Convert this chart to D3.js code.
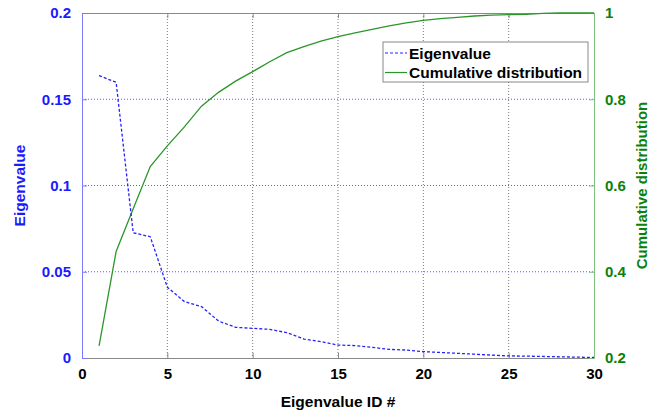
<!DOCTYPE html>
<html>
<head>
<meta charset="utf-8">
<script src="https://cdn.jsdelivr.net/npm/d3@7"></script>
<style>
  html, body { margin: 0; padding: 0; background: #fff; }
  svg { display: block; font-family: "Liberation Sans", Arial, sans-serif; font-weight: bold; }
</style>
</head>
<body>
<svg id="chart" width="651" height="413"></svg>
<script>
// ---- data ----
const ids = d3.range(1, 31);
const eigenvalues = [0.1637, 0.1598, 0.0726, 0.0703, 0.0410, 0.0327, 0.0298, 0.0214, 0.0178, 0.0172,
                     0.0166, 0.0147, 0.0110, 0.0095, 0.0075, 0.0072, 0.0062, 0.0050, 0.0046, 0.0037,
                     0.0032, 0.0027, 0.0022, 0.0017, 0.0012, 0.0011, 0.0009, 0.0007, 0.0005, 0.0003];
const cumulative = [0.228, 0.447, 0.546, 0.644, 0.692, 0.736, 0.784, 0.816, 0.842, 0.864,
                    0.887, 0.908, 0.922, 0.935, 0.945, 0.954, 0.962, 0.970, 0.977, 0.983,
                    0.987, 0.990, 0.993, 0.995, 0.996, 0.997, 0.999, 1.000, 1.000, 1.000];
const xTicks = [0, 5, 10, 15, 20, 25, 30];
const yLeftTicks = [0, 0.05, 0.1, 0.15, 0.2];
const yRightTicks = [0.2, 0.4, 0.6, 0.8, 1];
const seriesNames = ["Eigenvalue", "Cumulative distribution"];

// ---- layout ----
const L = 82, R = 594, T = 13, B = 358;
const BLUE = "#1a1aff", GREEN = "#0a820a", GRAY = "#888888";

const svg = d3.select("#chart");
const x = d3.scaleLinear().domain([0, 30]).range([L, R]);
const yL = d3.scaleLinear().domain([0, 0.2]).range([B, T]);
const yR = d3.scaleLinear().domain([0.2, 1]).range([B, T]);

// grid
svg.append("g").selectAll("line").data(xTicks.filter(d => d > 0 && d < 30)).join("line")
  .attr("x1", d => x(d)).attr("x2", d => x(d)).attr("y1", T).attr("y2", B)
  .attr("stroke", "#777").attr("stroke-width", 1).attr("stroke-dasharray", "1,2");
svg.append("g").selectAll("line").data(yLeftTicks.filter(d => d > 0 && d < 0.2)).join("line")
  .attr("x1", L).attr("x2", R).attr("y1", d => yL(d)).attr("y2", d => yL(d))
  .attr("stroke", "#5a5aff").attr("stroke-width", 1).attr("stroke-dasharray", "1,2");

// axes
const fmt = d => String(d);
const gx = svg.append("g").attr("transform", `translate(0,${B})`)
  .call(d3.axisBottom(x).tickValues(xTicks).tickFormat(fmt).tickSizeInner(-5).tickSizeOuter(0).tickPadding(10));
gx.select(".domain").attr("stroke", GRAY);
gx.selectAll(".tick line").attr("stroke", GRAY);
gx.selectAll("text").attr("fill", "#000").style("font-size", "15px").style("font-weight", "bold")
  .style("font-family", "Liberation Sans, Arial, sans-serif");

const gt = svg.append("g").attr("transform", `translate(0,${T})`)
  .call(d3.axisTop(x).tickValues(xTicks).tickFormat("").tickSizeInner(-5).tickSizeOuter(0));
gt.select(".domain").attr("stroke", GRAY);
gt.selectAll(".tick line").attr("stroke", GRAY);

const gl = svg.append("g").attr("transform", `translate(${L},0)`)
  .call(d3.axisLeft(yL).tickValues(yLeftTicks).tickFormat(fmt).tickSizeInner(-5).tickSizeOuter(0).tickPadding(11));
gl.select(".domain").attr("stroke", "#7a7aff");
gl.selectAll(".tick line").attr("stroke", "#7a7aff");
gl.selectAll("text").attr("fill", BLUE).style("font-size", "15px").style("font-weight", "bold")
  .style("font-family", "Liberation Sans, Arial, sans-serif");

const gr = svg.append("g").attr("transform", `translate(${R},0)`)
  .call(d3.axisRight(yR).tickValues(yRightTicks).tickFormat(fmt).tickSizeInner(-5).tickSizeOuter(0).tickPadding(11));
gr.select(".domain").attr("stroke", "#7fc07f");
gr.selectAll(".tick line").attr("stroke", "#7fc07f");
gr.selectAll("text").attr("fill", GREEN).style("font-size", "15px").style("font-weight", "bold")
  .style("font-family", "Liberation Sans, Arial, sans-serif");

// lines
const eigData = ids.map((d, i) => [d, eigenvalues[i]]);
const cumData = ids.map((d, i) => [d, cumulative[i]]);
svg.append("path").datum(cumData)
  .attr("fill", "none").attr("stroke", "#2a962a").attr("stroke-width", 1.3)
  .attr("d", d3.line().x(d => x(d[0])).y(d => yR(d[1])));
svg.append("path").datum(eigData)
  .attr("fill", "none").attr("stroke", "#2323ff").attr("stroke-width", 1.3).attr("stroke-dasharray", "3,2")
  .attr("d", d3.line().x(d => x(d[0])).y(d => yL(d[1])));

// axis titles
svg.append("text").attr("x", (L + R) / 2).attr("y", 407).attr("text-anchor", "middle")
  .attr("fill", "#000").style("font-size", "15.5px").text("Eigenvalue ID #");
svg.append("text").attr("transform", `translate(25,${(T + B) / 2}) rotate(-90)`).attr("text-anchor", "middle")
  .attr("fill", BLUE).style("font-size", "15.5px").text("Eigenvalue");
svg.append("text").attr("transform", `translate(647,${(T + B) / 2}) rotate(-90)`).attr("text-anchor", "middle")
  .attr("fill", GREEN).style("font-size", "15px").text("Cumulative distribution");

// legend
const lg = svg.append("g");
lg.append("rect").attr("x", 383).attr("y", 42).attr("width", 205).attr("height", 40)
  .attr("fill", "#fff").attr("stroke", GRAY).attr("stroke-width", 1);
const legendItems = [
  { name: seriesNames[0], color: "#2323ff", dash: "3,2", y: 53 },
  { name: seriesNames[1], color: "#2a962a", dash: null, y: 72.5 }
];
legendItems.forEach(it => {
  lg.append("line").attr("x1", 385).attr("x2", 407).attr("y1", it.y).attr("y2", it.y)
    .attr("stroke", it.color).attr("stroke-width", 1.2).attr("stroke-dasharray", it.dash);
  lg.append("text").attr("x", 409).attr("y", it.y + 5.5).attr("fill", "#000")
    .style("font-size", "15.5px").text(it.name);
});
</script>
</body>
</html>
